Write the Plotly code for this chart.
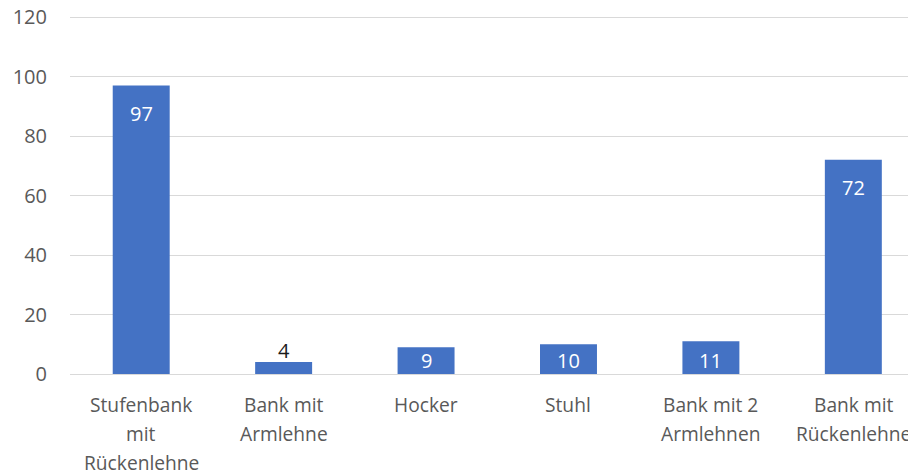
import plotly.graph_objects as go

categories = ["Stufenbank<br>mit<br>Rückenlehne", "Bank mit<br>Armlehne", "Hocker",
              "Stuhl", "Bank mit 2<br>Armlehnen", "Bank mit<br>Rückenlehne"]
values = [97, 4, 9, 10, 11, 72]
y_ticks = [0, 20, 40, 60, 80, 100, 120]

BAR = "#4472C4"
GRAY = "#595959"
FONT = "Open Sans"

x_idx = list(range(len(categories)))

fig = go.Figure()
fig.add_trace(go.Bar(x=x_idx, y=values, width=0.4, marker=dict(color=BAR, line=dict(width=0)),
                     hoverinfo="skip"))

annotations = []
# data labels
for i, v in enumerate(values):
    if v < 6:
        annotations.append(dict(x=i, y=v, xref="x", yref="y", text=str(v), showarrow=False,
                                yanchor="middle", yshift=12,
                                font=dict(family=FONT, size=20, color="#1a1a1a")))
    else:
        ly = max(v - 9.4, 4.7)
        annotations.append(dict(x=i, y=ly, xref="x", yref="y", text=str(v), showarrow=False,
                                yanchor="middle",
                                font=dict(family=FONT, size=20, color="white")))
# category labels (multi-line)
for i, c in enumerate(categories):
    for j, line in enumerate(c.split("<br>")):
        annotations.append(dict(x=i, y=0, xref="x", yref="y", text=line, showarrow=False,
                                yanchor="top", yshift=-15 - 29 * j,
                                font=dict(family=FONT, size=19.2, color=GRAY)))

fig.update_layout(
    width=908, height=465,
    margin=dict(l=62, r=0, t=8, b=99, autoexpand=False),
    paper_bgcolor="white", plot_bgcolor="white",
    showlegend=False,
    font=dict(family=FONT, size=20, color=GRAY),
    annotations=annotations,
    xaxis=dict(range=[-0.5, 5.44], showticklabels=False, showgrid=False, zeroline=False,
               showline=False, ticks="", automargin=False),
    yaxis=dict(range=[0, 120.35], tickvals=y_ticks, showgrid=True, gridcolor="#d9d9d9", gridwidth=1,
               zeroline=True, zerolinecolor="#d9d9d9", zerolinewidth=1, showline=False,
               ticks="", ticklabelstandoff=22, ticklabeloverflow="allow", automargin=False,
               tickfont=dict(family=FONT, size=20, color=GRAY)),
)

fig.write_html("out.html")
